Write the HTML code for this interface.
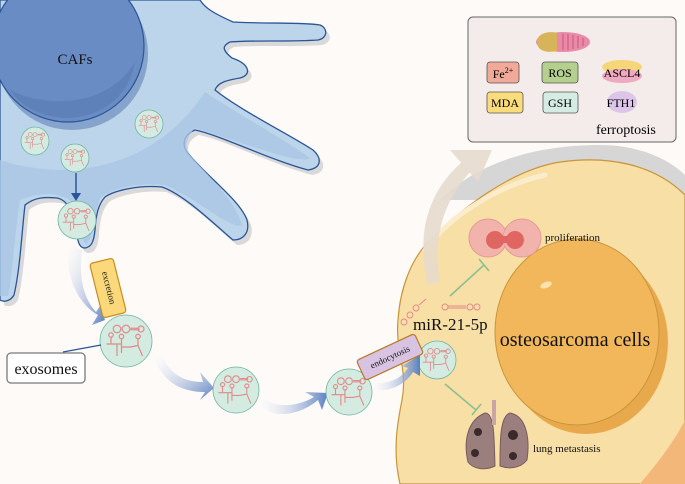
<!DOCTYPE html>
<html><head><meta charset="utf-8"><style>
html,body{margin:0;padding:0;background:#fefaf7;}
svg{display:block;font-family:"Liberation Serif",serif;}
</style></head><body>
<svg width="685" height="484" viewBox="0 0 685 484" xmlns="http://www.w3.org/2000/svg">
<defs>
<linearGradient id="ba" x1="0" y1="0" x2="1" y2="1"><stop offset="0" stop-color="#ffffff" stop-opacity="0.2"/><stop offset="1" stop-color="#5b7fbf"/></linearGradient>
<linearGradient id="ba2" x1="0" y1="0" x2="1" y2="0"><stop offset="0" stop-color="#ffffff" stop-opacity="0.2"/><stop offset="1" stop-color="#5b7fbf"/></linearGradient>
<g id="rna">
<g fill="none" stroke="#e08a8a" stroke-width="0.8">
<circle cx="-6" cy="-8" r="2.5"/><circle cx="0" cy="-8" r="2.5"/><line x1="3" y1="-8.5" x2="9" y2="-8.5"/><line x1="3" y1="-7.5" x2="9" y2="-7.5"/><circle cx="10" cy="-8" r="2"/>
<path d="M-13 2 L-10 2 L-10 -3 M-10 2 L-6 2 L-6 10 M-6 2 L-3 2 L-3 -2 L-3 8 M-3 4 L3 4 L8 3 L8 -2 M8 3 L11 10"/>
<circle cx="-10" cy="-4" r="1.5"/><circle cx="-3" cy="-3" r="1.5"/><circle cx="8" cy="-3" r="1.5"/>
</g></g>
</defs>
<rect width="685" height="484" fill="#fefaf7"/>

<!-- CAF cell -->
<path d="M0 0 L200 0 C205 8 213 13 233 22 C270 24 300 22 320 25 C328 28 328 38 318 40 C290 42 250 40 230 42 C222 46 222 50 232 58 C250 64 252 75 240 78 C228 80 218 82 215 90 C240 110 290 135 313 150 C322 158 322 168 308 170 C270 160 220 135 195 130 C183 135 182 145 187 152 C205 175 240 200 247 220 C250 232 244 240 233 240 C215 225 185 195 162 187 C140 185 115 190 105 197 C98 205 96 215 95 230 C94 240 92 248 84 248 C78 247 77 238 77 230 C75 215 68 200 57 198 C45 197 35 197 25 205 C22 230 20 270 14 295 C10 302 3 302 0 300 Z" fill="#d9d9d9" transform="translate(4,5)"/>
<path d="M0 0 L200 0 C205 8 213 13 233 22 C270 24 300 22 320 25 C328 28 328 38 318 40 C290 42 250 40 230 42 C222 46 222 50 232 58 C250 64 252 75 240 78 C228 80 218 82 215 90 C240 110 290 135 313 150 C322 158 322 168 308 170 C270 160 220 135 195 130 C183 135 182 145 187 152 C205 175 240 200 247 220 C250 232 244 240 233 240 C215 225 185 195 162 187 C140 185 115 190 105 197 C98 205 96 215 95 230 C94 240 92 248 84 248 C78 247 77 238 77 230 C75 215 68 200 57 198 C45 197 35 197 25 205 C22 230 20 270 14 295 C10 302 3 302 0 300 Z" fill="#bcd5ea" stroke="#2b5597" stroke-width="1.3"/>
<path d="M0 160 C60 180 150 175 205 92 C240 115 285 140 310 158 C300 165 250 145 195 128 C184 140 185 150 190 155 C210 178 235 200 242 225 C230 230 200 200 165 185 C130 182 110 190 100 198 C95 215 93 240 86 244 C80 240 79 210 70 200 C55 192 40 192 20 200 C15 230 12 280 8 296 L0 296 Z" fill="#a9c6e4" opacity="0.8"/>
<circle cx="68" cy="48" r="76" fill="#4f72ad" transform="translate(4,6)" opacity="0.5"/>
<circle cx="68" cy="46" r="76" fill="#6a8cc4" stroke="#2b5597" stroke-width="1.2"/>
<path d="M10 90 C50 110 110 105 135 62 C130 90 110 115 70 118 C40 118 20 105 10 90Z" fill="#5a7cb6" opacity="0.7"/>
<text x="75" y="64" font-size="15" text-anchor="middle" fill="#111">CAFs</text>

<g stroke="#6fb3a0" stroke-width="0.8" fill="#d4ebe1">
<circle cx="35" cy="141" r="14"/><circle cx="75" cy="158" r="14"/><circle cx="149" cy="124" r="14"/><circle cx="77" cy="220" r="19"/>
</g>
<use href="#rna" transform="translate(35,141) scale(0.8)"/>
<use href="#rna" transform="translate(75,158) scale(0.8)"/>
<use href="#rna" transform="translate(149,124) scale(0.8)"/>
<use href="#rna" transform="translate(77,220) scale(1.1)"/>
<line x1="76" y1="173" x2="76" y2="196" stroke="#2b5597" stroke-width="1.5"/>
<path d="M71 193 L76 201 L81 193 Z" fill="#2b5597"/>

<!-- Osteosarcoma cell -->
<path d="M440 200 C480 160 540 145 600 145 C640 145 670 160 685 175 L685 200 L440 200Z" fill="#d6d6d6"/>
<path d="M400 484 C392 450 398 420 402 400 C408 370 395 350 398 320 C400 290 410 260 430 240 C460 210 510 170 560 162 C610 155 655 165 685 195 L685 484 Z" fill="#f7dfa6" stroke="#c9953a" stroke-width="1.2"/>
<path d="M640 484 C660 460 675 440 685 420 L685 484Z" fill="#f3b77a"/>
<path d="M425 250 C450 215 500 185 545 175" stroke="#fbeccb" stroke-width="5" fill="none" stroke-linecap="round"/>
<ellipse cx="586" cy="342" rx="82" ry="92" fill="#e8a94c"/>
<ellipse cx="577" cy="332" rx="82" ry="93" fill="#f2b75b" stroke="#c9953a" stroke-width="1"/>
<ellipse cx="546" cy="285" rx="6" ry="3" fill="#fbe2b0" transform="rotate(-20 546 285)"/>
<text x="575" y="346" font-size="20" text-anchor="middle" fill="#111">osteosarcoma cells</text>

<path d="M428 285 C415 230 430 190 462 162 L470 172 C445 200 432 235 440 282 Z" fill="#e6dccd" opacity="0.9"/>
<path d="M450 150 L492 150 L478 182 Z" fill="#e6dccd" opacity="0.9"/>

<circle cx="488" cy="238" r="19" fill="#f2b3ad" stroke="#e69a94"/>
<circle cx="522" cy="238" r="19" fill="#f2b3ad" stroke="#e69a94"/>
<circle cx="495" cy="240" r="9" fill="#e06662"/><circle cx="515" cy="240" r="9" fill="#e06662"/>
<rect x="495" y="236" width="20" height="7" fill="#e06662"/>
<text x="545" y="241" font-size="11" fill="#111">proliferation</text>
<line x1="450" y1="296" x2="484" y2="265" stroke="#8fbf8f" stroke-width="1.6"/>
<line x1="479" y1="259" x2="489" y2="271" stroke="#8fbf8f" stroke-width="1.6"/>

<g fill="none" stroke="#e08a8a" stroke-width="0.9">
<circle cx="404" cy="322" r="3"/><circle cx="410" cy="315" r="3"/><circle cx="416" cy="308" r="3"/><line x1="419" y1="305" x2="426" y2="299"/>
<circle cx="445" cy="307" r="3"/><circle cx="470" cy="307" r="3"/><circle cx="477" cy="307" r="3"/><line x1="448" y1="306" x2="466" y2="306"/><line x1="448" y1="308" x2="466" y2="308"/>
</g>
<text x="413" y="330" font-size="17" fill="#111">miR-21-5p</text>

<circle cx="437" cy="360" r="19" fill="#d4ebe1" stroke="#6fb3a0" stroke-width="0.8"/>
<use href="#rna" transform="translate(437,360) scale(1.1)"/>
<line x1="445" y1="384" x2="476" y2="410" stroke="#8fbf8f" stroke-width="1.6"/>
<line x1="472" y1="415" x2="481" y2="404" stroke="#8fbf8f" stroke-width="1.6"/>

<path d="M468 462 C463 440 468 420 485 413 C495 413 494 440 495 466 C485 471 473 469 468 462Z" fill="#9b7f7f" stroke="#7a5c5c"/>
<path d="M500 466 C500 440 500 416 510 413 C527 416 530 440 527 460 C520 469 508 469 500 466Z" fill="#9b7f7f" stroke="#7a5c5c"/>
<rect x="492" y="400" width="4" height="25" fill="#c9a5a5"/>
<circle cx="478" cy="432" r="4" fill="#3a2a2a"/><circle cx="475" cy="453" r="4" fill="#3a2a2a"/><circle cx="513" cy="435" r="5" fill="#3a2a2a"/><circle cx="513" cy="456" r="4" fill="#3a2a2a"/>
<text x="533" y="452" font-size="11" fill="#111">lung metastasis</text>

<path d="M68 245 C65 280 80 305 98 315 L92 325 L105 320 L100 306 L96 312 C85 300 78 280 82 250 Z" fill="url(#ba)"/>
<path d="M155 360 C165 385 185 392 205 392 L200 400 L214 388 L200 372 L203 382 C185 382 170 375 162 355 Z" fill="url(#ba)"/>
<path d="M258 405 C275 420 300 415 318 400 L322 410 L328 393 L305 392 L314 397 C300 405 280 410 262 398 Z" fill="url(#ba2)"/>
<path d="M372 390 C390 392 405 385 413 372 L420 376 L420 355 L402 366 L408 368 C400 380 388 384 372 383 Z" fill="url(#ba2)"/>

<g stroke="#6fb3a0" stroke-width="0.8" fill="#d4ebe1">
<circle cx="126" cy="341" r="26"/><circle cx="236" cy="390" r="23"/><circle cx="349" cy="392" r="23"/>
</g>
<use href="#rna" transform="translate(126,341) scale(1.5)"/>
<use href="#rna" transform="translate(236,390) scale(1.35)"/>
<use href="#rna" transform="translate(349,392) scale(1.35)"/>

<g transform="translate(108,288) rotate(-14)">
<rect x="-12" y="-28" width="24" height="56" rx="3" fill="#fbd97a" stroke="#c98a20" stroke-width="1.2"/>
<text x="0" y="0" font-size="9" text-anchor="middle" dominant-baseline="middle" transform="rotate(90)" fill="#111">excretion</text>
</g>

<line x1="63" y1="352" x2="101" y2="345" stroke="#2b5597" stroke-width="1.3"/>
<rect x="7" y="353" width="78" height="30" rx="4" fill="#fff" stroke="#7a7a7a" stroke-width="1.3"/>
<text x="46" y="374" font-size="16" text-anchor="middle" fill="#111">exosomes</text>

<g transform="translate(390,357) rotate(-25)">
<rect x="-32" y="-11" width="64" height="22" rx="3" fill="#d9c3e3" stroke="#b7782a" stroke-width="1.2"/>
<text x="0" y="3" font-size="9" text-anchor="middle" fill="#111">endocytosis</text>
</g>

<!-- legend -->
<rect x="468" y="17" width="208" height="125" rx="5" fill="#f3ecea" stroke="#666" stroke-width="1"/>
<ellipse cx="563" cy="42" rx="27" ry="10" fill="#e98aa8"/>
<path d="M537 42 C537 32 552 31 557 33 L557 51 C549 53 537 52 537 42Z" fill="#d7b35a"/>
<g stroke="#c44a6a" stroke-width="0.8"><line x1="563" y1="34" x2="563" y2="50"/><line x1="568" y1="34" x2="568" y2="50"/><line x1="573" y1="35" x2="573" y2="49"/><line x1="578" y1="36" x2="578" y2="48"/><line x1="583" y1="38" x2="583" y2="46"/></g>
<rect x="487" y="62" width="32" height="21" rx="3" fill="#f1a99a" stroke="#555" stroke-width="0.8"/>
<text x="503" y="78" font-size="12" text-anchor="middle">Fe<tspan font-size="8" dy="-5">2+</tspan></text>
<rect x="542" y="62" width="36" height="21" rx="3" fill="#b5cf8f" stroke="#555" stroke-width="0.8"/>
<text x="560" y="77" font-size="12" text-anchor="middle">ROS</text>
<ellipse cx="622" cy="67" rx="20" ry="7" fill="#f7d67a"/>
<ellipse cx="622" cy="76" rx="20" ry="7" fill="#efa9c0"/>
<text x="622" y="77" font-size="12" text-anchor="middle">ASCL4</text>
<rect x="487" y="92" width="36" height="21" rx="3" fill="#fbdc7d" stroke="#555" stroke-width="0.8"/>
<text x="505" y="107" font-size="12" text-anchor="middle">MDA</text>
<rect x="543" y="92" width="35" height="21" rx="3" fill="#d5ece4" stroke="#555" stroke-width="0.8"/>
<text x="560" y="107" font-size="12" text-anchor="middle">GSH</text>
<ellipse cx="622" cy="102" rx="15" ry="11" fill="#dcc5e8"/>
<text x="621" y="107" font-size="12" text-anchor="middle">FTH1</text>
<text x="596" y="134" font-size="14">ferroptosis</text>
</svg>
</body></html>
